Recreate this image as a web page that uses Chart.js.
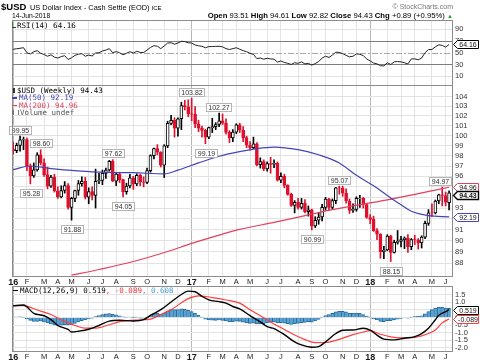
<!DOCTYPE html>
<html><head><meta charset="utf-8">
<script src="https://cdn.jsdelivr.net/npm/chart.js@4.4.1/dist/chart.umd.min.js"></script>
<style>
html,body{margin:0;padding:0;background:#fff;}
#wrap{position:relative;width:480px;height:363px;overflow:hidden;font-family:"Liberation Sans",Arial,sans-serif;color:#000;}
canvas{position:absolute;left:0;top:0;}
.t{position:absolute;white-space:nowrap;line-height:1;z-index:5;}
.mono{font-family:"DejaVu Sans Mono",monospace;font-size:7.5px;}
.ico{display:inline-block;vertical-align:middle;}
</style></head><body>
<div id="wrap">
<canvas id="cRsi" width="480" height="363"></canvas>
<canvas id="cMain" width="480" height="363"></canvas>
<canvas id="cMacd" width="480" height="363"></canvas>
<div class="t" style="left:1px;top:2px;font-size:9.5px;font-weight:bold">$USD</div>
<div class="t" style="left:30px;top:3.5px;font-size:7.4px">US Dollar Index - Cash Settle (EOD) <span style="font-size:6px">ICE</span></div>
<div class="t" style="left:12px;top:12.5px;font-size:6.8px">14-Jun-2018</div>
<div class="t" style="right:27px;top:2.5px;font-size:7px;color:#777">&copy; StockCharts.com</div>
<div class="t" id="hdr" style="right:27px;top:12px;font-size:7.7px"></div>
<div class="t mono" style="left:12px;top:21.5px"><span class="ico" style="width:3px;height:5px;border-left:1px solid #2a8a2a;border-bottom:1px solid #333;margin-right:1px"></span><span id="lgRsi"></span></div>
<div class="t mono" style="left:12px;top:87px"><span class="ico" style="width:2px;height:5px;background:#333;margin:0 2px 0 1px"></span><span id="lgPx"></span></div>
<div class="t mono" style="left:12px;top:94.3px;color:#4444b4"><span class="ico" style="width:5px;height:1.5px;background:#4444b4;margin-right:2px"></span><span id="lgMa50"></span></div>
<div class="t mono" style="left:12px;top:101.5px;color:#e4405e"><span class="ico" style="width:5px;height:1.5px;background:#e4405e;margin-right:2px"></span><span id="lgMa200"></span></div>
<div class="t mono" style="left:12px;top:108.7px;color:#555"><span class="ico" style="width:4px;height:5px;border-left:2px solid #777;border-right:1px solid #777;margin-right:1px"></span>Volume undef</div>
<div class="t mono" style="left:13px;top:286.5px"><span class="ico" style="width:5px;height:1.5px;background:#000;margin-right:2px"></span><span id="lgMacd"></span></div>
</div>
<script>
// ---------- DATA (weekly, weeks starting Monday 2016-01-04) ----------
const firstWeek = [2016, 0, 4];
const monthLetters = ["J","F","M","A","M","J","J","A","S","O","N","D"];

const opens = [98.63,98.51,99.03,99.57,99.61,97.00,96.04,96.63,98.09,97.32,
96.17,95.07,95.93,94.61,94.05,94.65,95.11,93.06,93.90,94.65,
95.31,95.53,94.03,94.55,94.19,95.53,95.61,96.29,96.61,97.45,
95.53,96.21,95.68,94.54,95.08,95.86,95.27,96.09,95.46,95.42,
96.55,98.02,98.70,98.36,97.07,98.97,101.23,101.54,100.75,101.70,
103.06,102.93,102.21,102.17,101.19,100.75,100.53,99.84,100.80,100.91,
101.12,101.50,101.26,100.33,99.77,100.35,101.08,100.54,99.79,99.04,
98.80,99.18,97.13,97.44,96.72,97.24,97.16,97.26,95.63,96.01,
95.14,94.28,93.24,93.54,93.07,93.43,92.67,92.83,91.35,91.87,
92.17,93.07,93.83,93.05,93.69,94.90,94.88,94.39,93.66,92.78,
92.88,93.90,93.91,93.33,92.12,91.95,90.92,90.59,89.03,89.17,
90.42,88.95,89.85,89.95,90.10,90.24,89.48,90.11,90.09,89.80,
90.33,91.59,92.55,92.54,93.66,94.25,94.18,93.51];
const highs = [99.35,99.25,99.95,99.85,99.75,97.20,97.30,98.30,98.60,97.70,
96.90,96.10,96.20,95.00,95.10,95.50,95.30,94.00,94.70,95.60,
95.95,95.90,94.90,95.00,96.70,96.30,96.60,96.80,97.55,97.62,
96.30,96.40,95.75,95.35,96.20,96.00,96.25,96.20,95.95,96.80,
98.10,98.75,99.10,98.40,99.10,101.45,102.05,101.80,101.80,103.40,
103.60,103.65,103.82,102.95,101.55,100.95,100.65,100.85,101.75,101.30,
102.27,102.20,101.70,100.50,100.60,101.20,101.25,100.90,99.95,99.40,
99.85,99.30,97.80,97.60,97.40,97.85,97.60,97.40,96.35,96.20,
95.20,94.40,93.70,93.90,93.90,93.80,93.20,92.90,92.20,92.55,
93.35,94.00,93.90,93.85,94.95,95.07,95.05,94.80,93.85,93.40,
94.05,94.20,94.00,93.45,92.40,92.25,91.10,90.65,89.50,90.55,
90.50,90.05,90.93,90.40,90.35,90.55,90.20,90.50,90.20,90.45,
91.80,92.85,93.40,93.75,94.30,94.97,94.50,94.61];
const lows = [98.15,98.30,98.45,98.60,96.55,95.28,95.90,96.50,97.10,96.00,
94.80,94.95,94.50,93.90,93.95,94.40,92.90,91.88,93.60,94.20,
95.05,93.85,93.40,93.75,93.00,95.30,95.20,95.80,96.50,95.50,
95.10,95.40,94.05,94.30,94.90,94.75,95.10,95.10,95.00,95.30,
96.40,97.70,98.10,96.90,95.89,98.80,101.10,99.85,99.95,100.60,
102.60,101.90,101.50,100.80,100.40,99.85,99.19,99.70,100.30,100.60,
100.90,101.10,100.15,99.30,99.40,100.20,100.30,99.40,98.80,98.55,
98.70,97.00,96.80,96.55,96.50,96.30,96.85,95.55,95.40,94.90,
94.20,93.15,92.55,92.90,92.90,92.55,92.25,90.99,91.20,91.50,
91.80,92.80,92.75,92.90,93.40,94.30,94.10,93.45,92.50,92.60,
92.70,93.05,93.00,92.05,91.55,90.85,90.10,88.44,88.40,89.10,
88.15,88.90,89.70,89.45,89.30,88.95,89.20,89.65,89.25,89.35,
90.20,91.40,92.20,92.45,93.40,93.20,93.20,92.82];
const closes = [98.51,99.03,99.57,99.61,97.00,96.04,96.63,98.09,97.32,96.17,
95.07,95.93,94.61,94.05,94.65,95.11,93.06,93.90,94.65,95.31,
95.53,94.03,94.55,94.19,95.53,95.61,96.29,96.61,97.45,95.53,
96.21,95.68,94.54,95.08,95.86,95.27,96.09,95.46,95.42,96.55,
98.02,98.70,98.36,97.07,98.97,101.23,101.54,100.75,101.70,103.06,
102.93,102.21,102.17,101.19,100.75,100.53,99.84,100.80,100.91,101.12,
101.50,101.26,100.33,99.77,100.35,101.08,100.54,99.79,99.04,98.80,
99.18,97.13,97.44,96.72,97.24,97.16,97.26,95.63,96.01,95.14,
94.28,93.24,93.54,93.07,93.43,92.67,92.83,91.35,91.87,92.17,
93.07,93.83,93.05,93.69,94.90,94.88,94.39,93.66,92.78,92.88,
93.90,93.91,93.33,92.12,91.95,90.92,90.59,89.03,89.17,90.42,
88.95,89.85,89.95,90.10,90.24,89.48,90.11,90.09,89.80,90.33,
91.59,92.55,92.54,93.66,94.25,94.18,93.54,94.43];

// moving averages: [week index, value]
const ma50Pts = [[0,96.65],[5,97.0],[10,96.8],[16,96.6],[25,96.4],[35,96.35],[44,96.24],[48,96.6],[54,97.3],[60,97.95],[66,98.4],[71,98.7],[76,98.85],[83,98.6],[89,98.1],[95,97.3],[100,96.1],[105,95.1],[110,93.95],[113,93.3],[116,92.7],[121,92.3],[127,92.19]];
const ma200Pts = [[17,86.95],[25,87.45],[35,88.15],[45,89.04],[52,89.76],[66,91.03],[76,91.67],[86,92.36],[93,92.85],[109,93.76],[118,94.35],[127,94.96]];

const rsi = [55.9,56.8,57.6,58.6,50.0,47.9,51.8,53.5,49.1,47.0,
44.0,46.5,42.5,41.0,43.5,45.0,38.5,41.5,45.5,47.5,
48.5,44.0,46.0,44.5,49.5,50.0,53.0,54.5,57.0,50.0,
52.0,50.0,46.5,49.0,51.8,49.5,52.5,50.5,50.3,54.7,
59.0,62.0,61.0,57.0,61.5,66.5,67.0,64.5,66.5,69.5,
69.0,67.0,66.5,63.2,61.8,61.0,58.5,60.5,60.5,60.8,
61.0,60.0,57.0,55.5,57.0,58.5,56.0,53.5,51.8,49.0,
47.0,40.0,41.0,39.0,40.5,39.5,39.0,34.0,36.0,33.5,
32.0,30.0,33.0,32.0,34.5,31.0,32.0,29.0,31.5,35.0,
41.0,44.0,42.0,46.0,51.0,50.5,48.5,45.5,43.0,44.0,
48.0,47.5,45.0,39.5,36.0,32.5,31.0,28.0,27.5,33.0,
30.0,34.5,35.0,34.5,33.0,31.0,39.5,39.5,38.0,41.0,
50.0,55.5,55.5,60.0,63.5,62.5,59.5,64.16];

const macdPts = [[0,0.78],[3,0.83],[6,0.28],[9,0.12],[11,-0.13],[13,-0.52],[16,-0.78],[17,-0.95],[19,-0.9],[22,-0.77],[25,-0.52],[28,-0.23],[31,-0.18],[35,-0.22],[38,-0.14],[40,0.14],[43,0.52],[46,1.03],[49,1.52],[51,1.74],[53,1.7],[55,1.4],[57,1.17],[60,1.05],[62,0.95],[64,0.73],[66,0.57],[69,0.13],[72,-0.28],[74,-0.6],[76,-0.72],[79,-1.12],[82,-1.6],[84,-1.8],[87,-1.95],[89,-1.91],[91,-1.6],[94,-1.05],[96,-0.83],[99,-0.82],[102,-0.7],[104,-0.82],[106,-1.15],[108,-1.42],[111,-1.47],[114,-1.36],[117,-1.25],[119,-1.05],[121,-0.7],[123,-0.14],[124,0.15],[126,0.4],[127,0.519]];
const signalPts = [[0,0.78],[3,0.79],[7,0.5],[11,0.2],[15,-0.25],[18,-0.52],[21,-0.7],[24,-0.7],[28,-0.47],[31,-0.27],[37,-0.15],[40,-0.1],[43,0.2],[46,0.52],[49,0.97],[51,1.25],[54,1.43],[58,1.32],[62,1.16],[66,0.95],[69,0.52],[72,0.12],[76,-0.42],[79,-0.78],[82,-1.15],[85,-1.45],[88,-1.65],[91,-1.64],[95,-1.43],[99,-1.12],[102,-0.95],[104,-0.86],[107,-1.1],[110,-1.27],[113,-1.33],[117,-1.31],[119,-1.2],[121,-1.05],[123,-0.82],[125,-0.35],[127,-0.089]];
const hist = [0.02,0.04,0.05,0.03,-0.08,-0.18,-0.26,-0.25,-0.22,-0.28,
-0.35,-0.42,-0.48,-0.52,-0.50,-0.46,-0.48,-0.46,-0.38,-0.28,
-0.20,-0.14,-0.08,-0.03,0.06,0.14,0.20,0.25,0.27,0.22,
0.18,0.12,0.05,0.03,0.04,0.01,0.02,-0.01,-0.03,0.03,
0.14,0.24,0.28,0.22,0.30,0.45,0.52,0.52,0.53,0.57,
0.55,0.48,0.40,0.28,0.15,0.02,-0.10,-0.14,-0.17,-0.18,
-0.16,-0.18,-0.22,-0.28,-0.27,-0.24,-0.25,-0.30,-0.35,-0.38,
-0.36,-0.42,-0.40,-0.40,-0.35,-0.32,-0.28,-0.35,-0.33,-0.36,
-0.40,-0.45,-0.40,-0.38,-0.33,-0.32,-0.27,-0.30,-0.22,-0.12,
0.02,0.14,0.20,0.28,0.38,0.42,0.42,0.38,0.30,0.28,
0.30,0.28,0.20,0.10,0.02,-0.08,-0.14,-0.25,-0.27,-0.20,
-0.22,-0.15,-0.10,-0.05,0.00,-0.02,0.03,0.06,0.08,0.12,
0.25,0.40,0.52,0.62,0.68,0.68,0.62,0.608];

// labelled highs / lows on the price panel
const priceNotes = [[2,'high'],[5,'low'],[8,'high'],[17,'low'],[29,'high'],[32,'low'],[52,'high'],[56,'low'],[60,'high'],[87,'low'],[95,'high'],[110,'low'],[125,'high']];

const priceTicks = [88,89,90,91,92,93,94,95,96,97,98,99,100,101,102,103,104];
const rsiTicks = [10,30,50,70,90];
const macdTicks = [-2,-1.5,-1,-0.5,0,0.5,1,1.5];

// ---------- derived categories ----------
const weekDates = closes.map((_, i) => new Date(Date.UTC(firstWeek[0], firstWeek[1], firstWeek[2] + 7 * i)));
const monthTicks = [];
weekDates.forEach((d, i) => { if (d.getUTCDate() <= 7) monthTicks.push(i); });
const isYearTick = i => weekDates[i] && weekDates[i].getUTCMonth() === 0;
const tickLabel = i => { const d = weekDates[i]; if (!d) return ''; return d.getUTCMonth() === 0 ? String(d.getUTCFullYear()).slice(2) : monthLetters[d.getUTCMonth()]; };

// ---------- styles ----------
const RED = '#e0102d', MA50_C = '#4444b4', MA200_C = '#e4405e', SIG_C = '#ff3d3d', HIST_C = '#55a2d3', HIST_B = '#2a6a9a';
const GRID = '#e3e3e3', YEARGRID = '#b8b8b8', FRAME = '#8c8c8c';
const X_MIN = -0.35, X_MAX = 128.14;
Chart.defaults.font.family = '"Liberation Sans", Arial, sans-serif';
Chart.defaults.color = '#333';

const last = a => a[a.length - 1];
const pts = arr => arr.map(([i, v]) => ({ x: i, y: v }));
const isDown = i => closes[i] < (i ? closes[i - 1] : opens[i]);
const candleColor = i => isDown(i) ? RED : '#000';
const isFilled = i => closes[i] < opens[i];

// header + legends from data
const n = closes.length - 1;
const chg = closes[n] - closes[n - 1];
document.getElementById('hdr').innerHTML = '<b>Open</b> ' + opens[n].toFixed(2) + ' <b>High</b> ' + highs[n].toFixed(2) + ' <b>Low</b> ' + lows[n].toFixed(2) + ' <b>Close</b> ' + closes[n].toFixed(2) + ' <b>Chg</b> ' + (chg >= 0 ? '+' : '') + chg.toFixed(2) + ' (' + (chg >= 0 ? '+' : '') + (chg / closes[n - 1] * 100).toFixed(2) + '%) <span style="color:#2a9a2a;font-size:6px">&#9650;</span>';
document.getElementById('lgRsi').textContent = 'RSI(14) ' + last(rsi).toFixed(2);
document.getElementById('lgPx').textContent = '$USD (Weekly) ' + closes[n].toFixed(2);
document.getElementById('lgMa50').textContent = 'MA(50) ' + last(ma50Pts)[1].toFixed(2);
document.getElementById('lgMa200').textContent = 'MA(200) ' + last(ma200Pts)[1].toFixed(2);
document.getElementById('lgMacd').innerHTML = 'MACD(12,26,9) ' + last(macdPts)[1].toFixed(3) + '<span style="color:#ff3030">, ' + last(signalPts)[1].toFixed(3) + '</span><span style="color:#4aa0d8">, ' + last(hist).toFixed(3) + '</span>';

// ---------- helpers ----------
function xScale(showLabels, height) {
  return {
    type: 'linear', min: X_MIN, max: X_MAX, offset: false,
    afterBuildTicks: s => { s.ticks = monthTicks.map(v => ({ value: v })); },
    afterFit: s => { s.height = height; },
    border: { display: false },
    grid: { drawTicks: false, offset: false, lineWidth: 1, color: c => (c.tick && isYearTick(c.tick.value)) ? YEARGRID : GRID },
    ticks: { display: showLabels, autoSkip: false, maxRotation: 0, minRotation: 0, padding: 1.5, color: '#1a1a1a',
      callback: v => tickLabel(v),
      font: c => (c.tick && isYearTick(c.tick.value)) ? { size: 9, weight: 'bold' } : { size: 7.5 } }
  };
}
function yScale(type, min, max, ticks, fmt, gridColor) {
  return {
    type, position: 'right', min, max,
    afterBuildTicks: s => { s.ticks = ticks.map(v => ({ value: v })); },
    afterFit: s => { s.width = 27; },
    border: { display: false },
    grid: { drawTicks: false, color: gridColor },
    ticks: { padding: 2, color: '#333', font: { size: 7.5 }, autoSkip: false, callback: fmt }
  };
}
const framePlugin = { id: 'frame', afterDraw(chart) {
  const a = chart.chartArea, ctx = chart.ctx;
  ctx.save(); ctx.strokeStyle = FRAME; ctx.lineWidth = 1;
  ctx.strokeRect(Math.round(a.left) + 0.5, Math.round(a.top) + 0.5, Math.round(a.right - a.left) - 1, Math.round(a.bottom - a.top));
  ctx.restore();
}};
function badgePlugin(getItems, digits) {
  return { id: 'badges', afterDraw(chart) {
    const ys = chart.scales.y, ctx = chart.ctx, r = chart.chartArea.right, H = 8;
    const items = getItems().map(b => Object.assign({}, b, { cy: ys.getPixelForValue(b.value) })).sort((a, b) => a.cy - b.cy);
    for (let k = 1; k < items.length; k++) if (items[k].cy - items[k - 1].cy < H) items[k].cy = items[k - 1].cy + H;
    ctx.save();
    items.forEach(b => {
      const cy = Math.round(b.cy) + 0.5, x0 = Math.round(r) + 0.5;
      ctx.beginPath();
      ctx.moveTo(x0, cy); ctx.lineTo(x0 + 4, cy - H / 2); ctx.lineTo(478.5, cy - H / 2); ctx.lineTo(478.5, cy + H / 2); ctx.lineTo(x0 + 4, cy + H / 2); ctx.closePath();
      ctx.fillStyle = '#fff'; ctx.fill();
      ctx.lineWidth = b.bold ? 1.4 : 1; ctx.strokeStyle = b.color; ctx.stroke();
      ctx.fillStyle = '#111'; ctx.font = (b.bold ? 'bold ' : '') + '7px "Liberation Sans", Arial, sans-serif';
      ctx.textAlign = 'center'; ctx.textBaseline = 'middle';
      ctx.fillText(b.value.toFixed(digits), 468, cy + 0.5);
    });
    ctx.restore();
  }};
}
const common = { responsive: false, animation: false, devicePixelRatio: 1, events: [],
  plugins: { legend: { display: false }, tooltip: { enabled: false } } };

// ---------- RSI panel ----------
new Chart(document.getElementById('cRsi'), {
  type: 'line',
  data: { datasets: [{ data: rsi.map((v, i) => ({ x: i, y: v })), borderColor: '#222', borderWidth: 1, pointRadius: 0, tension: 0 }] },
  options: Object.assign({}, common, {
    layout: { padding: { left: 12, right: 0, top: 20, bottom: 278 } },
    scales: {
      x: xScale(false, 0),
      y: yScale('linear', -4.9, 105.7, rsiTicks, v => String(v), c => (c.tick && (c.tick.value === 10 || c.tick.value === 90)) ? GRID : 'rgba(0,0,0,0)')
    }
  }),
  plugins: [{ id: 'rsiLines', beforeDatasetsDraw(chart) {
      const y = chart.scales.y, a = chart.chartArea, ctx = chart.ctx;
      ctx.save(); ctx.lineWidth = 1;
      [70, 30].forEach(v => { const py = Math.round(y.getPixelForValue(v)) + 0.5; ctx.strokeStyle = '#7d7d7d'; ctx.beginPath(); ctx.moveTo(a.left, py); ctx.lineTo(a.right, py); ctx.stroke(); });
      const p5 = Math.round(y.getPixelForValue(50)) + 0.5; ctx.strokeStyle = '#a8a8a8'; ctx.setLineDash([6, 2, 2, 2]);
      ctx.beginPath(); ctx.moveTo(a.left, p5); ctx.lineTo(a.right, p5); ctx.stroke();
      ctx.restore();
    } }, framePlugin, badgePlugin(() => [{ value: last(rsi), color: '#000' }], 2)]
});

// ---------- Price panel ----------
new Chart(document.getElementById('cMain'), {
  type: 'line',
  data: { datasets: [
    { type: 'line', data: pts(ma50Pts), borderColor: MA50_C, borderWidth: 1.2, pointRadius: 0, cubicInterpolationMode: 'monotone', order: 0 },
    { type: 'line', data: pts(ma200Pts), borderColor: MA200_C, borderWidth: 1.2, pointRadius: 0, cubicInterpolationMode: 'monotone', order: 0 },
    { type: 'bar', grouped: false, order: 1, barThickness: 3, borderWidth: 1, borderSkipped: false,
      data: opens.map((o, i) => ({ x: i, y: [o, closes[i]] })),
      backgroundColor: c => isFilled(c.dataIndex) ? candleColor(c.dataIndex) : '#fff',
      borderColor: c => candleColor(c.dataIndex) },
    { type: 'bar', grouped: false, order: 2, barThickness: 1, borderWidth: 0,
      data: lows.map((l, i) => ({ x: i, y: [l, highs[i]] })),
      backgroundColor: c => candleColor(c.dataIndex) }
  ] },
  options: Object.assign({}, common, {
    layout: { padding: { left: 12, right: 0, top: 85, bottom: 75 } },
    scales: {
      x: xScale(true, 12),
      y: yScale('logarithmic', 86.88, 105.2, priceTicks, v => String(v), GRID)
    }
  }),
  plugins: [framePlugin, { id: 'notes', afterDatasetsDraw(chart) {
      const xs = chart.scales.x, ys = chart.scales.y, ctx = chart.ctx, a = chart.chartArea;
      ctx.save(); ctx.font = '7px "Liberation Sans", Arial, sans-serif'; ctx.textAlign = 'center'; ctx.textBaseline = 'middle';
      priceNotes.forEach(([w, side]) => {
        const v = side === 'high' ? highs[w] : lows[w];
        const txt = v.toFixed(2), tw = ctx.measureText(txt).width + 4, h = 8;
        let cx = xs.getPixelForValue(w);
        cx = Math.min(cx, a.right - tw / 2 - 2);
        const cy = ys.getPixelForValue(v) + (side === 'high' ? -6.5 : 9);
        const x0 = Math.round(cx - tw / 2) + 0.5, y0 = Math.round(cy - h / 2) + 0.5;
        ctx.fillStyle = 'rgba(255,255,255,0.95)'; ctx.fillRect(x0, y0, Math.round(tw), h);
        ctx.strokeStyle = '#b5b5b5'; ctx.lineWidth = 1; ctx.strokeRect(x0, y0, Math.round(tw), h);
        ctx.fillStyle = '#333'; ctx.fillText(txt, x0 + Math.round(tw) / 2, y0 + h / 2 + 0.5);
      });
      ctx.restore();
    } },
    badgePlugin(() => [
      { value: last(ma200Pts)[1], color: MA200_C },
      { value: closes[n], color: '#000', bold: true },
      { value: last(ma50Pts)[1], color: MA50_C }
    ], 2)]
});

// ---------- MACD panel ----------
new Chart(document.getElementById('cMacd'), {
  type: 'line',
  data: { datasets: [
    { type: 'line', data: pts(macdPts), borderColor: '#000', borderWidth: 1.4, pointRadius: 0, cubicInterpolationMode: 'monotone', order: 0 },
    { type: 'line', data: pts(signalPts), borderColor: SIG_C, borderWidth: 1.2, pointRadius: 0, cubicInterpolationMode: 'monotone', order: 0 },
    { type: 'bar', grouped: false, order: 1, barThickness: 3.43, borderSkipped: false,
      data: hist.map((v, i) => ({ x: i, y: v })),
      backgroundColor: HIST_C, borderColor: HIST_B,
      borderWidth: c => { const v = hist[c.dataIndex]; return { left: 1, right: 0, top: v > 0 ? 1 : 0, bottom: v < 0 ? 1 : 0 }; } }
  ] },
  options: Object.assign({}, common, {
    layout: { padding: { left: 12, right: 0, top: 286, bottom: 0 } },
    scales: {
      x: xScale(true, 12),
      y: yScale('linear', -2.2, 2.08, macdTicks, v => Number(v).toFixed(1), GRID)
    }
  }),
  plugins: [framePlugin, badgePlugin(() => [
    { value: last(macdPts)[1], color: '#000' },
    { value: last(signalPts)[1], color: SIG_C }
  ], 3)]
});
</script>
</body></html>
